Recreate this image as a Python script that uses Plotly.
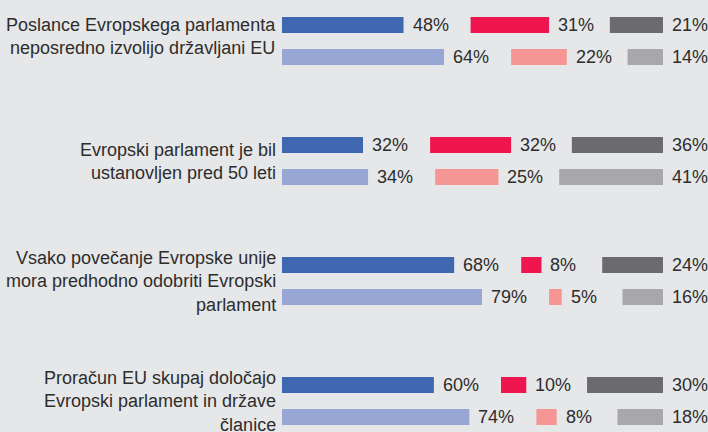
import plotly.graph_objects as go

categories = [
    "Poslance Evropskega parlamenta<br>neposredno izvolijo državljani EU",
    "Evropski parlament je bil<br>ustanovljen pred 50 leti",
    "Vsako povečanje Evropske unije<br>mora predhodno odobriti Evropski<br>parlament",
    "Proračun EU skupaj določajo<br>Evropski parlament in države<br>članice",
]
dark_yes = [48, 32, 68, 60]
dark_no = [31, 32, 8, 10]
dark_dk = [21, 36, 24, 30]
light_yes = [64, 34, 79, 74]
light_no = [22, 25, 5, 8]
light_dk = [14, 41, 16, 18]

dark_colors = ["#4068b0", "#ef1650", "#6b6b6d"]
light_colors = ["#98a6d4", "#f59695", "#a8a8aa"]
BG = "#e6e7e8"
TXT = "#2d2d2d"
FONT = "Liberation Sans"

GAPS = [0, 26.5, 24]      # spacing (axis units) left for value labels
ROW_STEP = 1.0
LIGHT_OFF = 32 / 120
BAR_W = 16 / 120
label_yshift = [5, 0, 0, 0]

fig = go.Figure()
annotations = []

def add_group(series, colors, yoff):
    base = [0.0] * len(categories)
    for k, (vals, col) in enumerate(zip(series, colors)):
        base = [b + GAPS[k] for b in base]
        ys = [i * ROW_STEP + yoff for i in range(len(categories))]
        fig.add_trace(go.Bar(
            x=vals, base=base, y=ys, orientation="h", width=BAR_W,
            marker=dict(color=col, line=dict(width=0)),
            hoverinfo="skip", showlegend=False,
        ))
        for b, v, y in zip(base, vals, ys):
            annotations.append(dict(
                x=b + v, y=y, xref="x", yref="y", text=f"{v}%",
                showarrow=False, xanchor="left", yanchor="middle", xshift=7,
                font=dict(family=FONT, size=18, color=TXT),
            ))
        base = [b + v for b, v in zip(base, vals)]

add_group([dark_yes, dark_no, dark_dk], dark_colors, 0)
add_group([light_yes, light_no, light_dk], light_colors, LIGHT_OFF)

for i, cat in enumerate(categories):
    annotations.append(dict(
        x=0, y=i * ROW_STEP + LIGHT_OFF / 2, xref="paper", yref="y", text=cat,
        showarrow=False, xanchor="right", yanchor="middle", align="right",
        xshift=-4, yshift=label_yshift[i],
        font=dict(family=FONT, size=18, color=TXT),
    ))

fig.update_layout(
    width=708, height=432,
    margin=dict(l=282, r=45, t=0, b=0),
    paper_bgcolor=BG, plot_bgcolor=BG,
    barmode="overlay",
    xaxis=dict(range=[0, 150.5], showgrid=False, zeroline=False,
               showticklabels=False, fixedrange=True),
    yaxis=dict(range=[3.3917, -0.2083], showgrid=False, zeroline=False,
               showticklabels=False, fixedrange=True),
    annotations=annotations,
)

fig.write_html(
    "out.html",
    config={"displayModeBar": False},
    post_script="document.body.style.margin='0px';document.body.style.background='" + BG + "';",
)
